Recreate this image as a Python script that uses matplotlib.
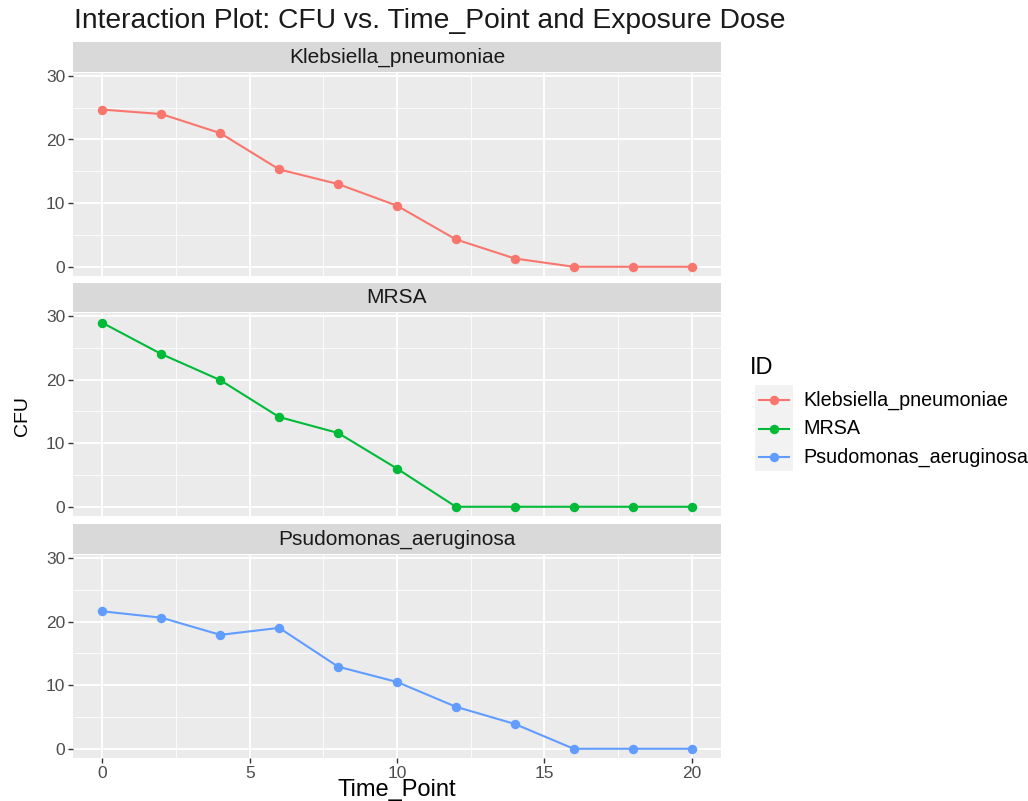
import matplotlib
matplotlib.use("Agg")
import matplotlib.pyplot as plt
from matplotlib.lines import Line2D
from matplotlib.patches import Rectangle

plt.rcParams['font.family'] = ['Liberation Sans', 'DejaVu Sans']

time_points = [0, 2, 4, 6, 8, 10, 12, 14, 16, 18, 20]
organisms = ['Klebsiella_pneumoniae', 'MRSA', 'Psudomonas_aeruginosa']
klebsiella_cfu = [24.7, 24.0, 21.0, 15.3, 13.0, 9.6, 4.3, 1.3, 0, 0, 0]
mrsa_cfu = [28.9, 24.0, 19.9, 14.1, 11.6, 6.0, 0, 0, 0, 0, 0]
pseudomonas_cfu = [21.6, 20.6, 17.9, 19.0, 12.9, 10.5, 6.6, 3.9, 0, 0, 0]
series = [klebsiella_cfu, mrsa_cfu, pseudomonas_cfu]
colors = ['#F8766D', '#00BA38', '#619CFF']

W, H = 1028, 801
fig = plt.figure(figsize=(W / 100, H / 100), dpi=100)
fig.patch.set_facecolor('white')


def fx(px):
    return px / W


def fy(py):
    return 1 - py / H


left, right = 73, 721
# (strip top, panel top, panel bottom) in pixels
panels = [(42, 73, 276), (283, 313, 516), (524, 555, 758)]

for i, (name, cfu, col) in enumerate(zip(organisms, series, colors)):
    st, pt, pb = panels[i]
    ax = fig.add_axes([fx(left), fy(pb), fx(right - left), (pb - pt) / H])
    ax.set_facecolor('#EBEBEB')
    for s in ax.spines.values():
        s.set_visible(False)
    ax.set_xlim(-1.0, 21.0)
    ax.set_ylim(-1.45, 30.45)
    ax.set_yticks([0, 10, 20, 30])
    ax.set_yticks([5, 15, 25], minor=True)
    ax.set_xticks([0, 5, 10, 15, 20])
    ax.set_xticks([2.5, 7.5, 12.5, 17.5], minor=True)
    ax.grid(which='major', color='white', linewidth=1.3)
    ax.grid(which='minor', color='white', linewidth=0.6)
    ax.set_axisbelow(True)
    ax.tick_params(which='minor', length=0)
    ax.tick_params(which='major', length=3.5, width=1, color='#333333',
                   labelcolor='#4D4D4D', labelsize=12.5, pad=2)
    if i < 2:
        ax.tick_params(axis='x', which='major', length=0, labelbottom=False)
    ax.plot(time_points, cfu, color=col, linewidth=1.5, marker='o',
            markersize=6.8, markeredgewidth=0, zorder=3)

    sax = fig.add_axes([fx(left), fy(pt - 1), fx(right - left), (pt - 1 - st) / H])
    sax.set_facecolor('#D9D9D9')
    for s in sax.spines.values():
        s.set_visible(False)
    sax.set_xticks([])
    sax.set_yticks([])
    sax.text(0.5, 0.5, name, transform=sax.transAxes, ha='center', va='center',
             fontsize=15, color='#1A1A1A')

fig.text(fx(74), fy(21), 'Interaction Plot: CFU vs. Time_Point and Exposure Dose',
         ha='left', va='center', fontsize=20.3, color='#1A1A1A')
fig.text(fx(22), fy(416), 'CFU', rotation=90, ha='center', va='center',
         fontsize=14, color='black')
fig.text(fx((left + right) / 2), fy(790), 'Time_Point', ha='center', va='center',
         fontsize=17, color='black')

# legend
fig.text(fx(750), fy(368), 'ID', ha='left', va='center', fontsize=17, color='black')
fig.patches.append(Rectangle((fx(755), fy(471)), fx(38), (471 - 385) / H,
                             transform=fig.transFigure, facecolor='#F2F2F2',
                             edgecolor='none'))
for k, (name, col) in enumerate(zip(organisms, colors)):
    yc = 400 + k * 28.5
    fig.lines.append(Line2D([fx(759), fx(789)], [fy(yc), fy(yc)], transform=fig.transFigure,
                            color=col, linewidth=1.5))
    fig.lines.append(Line2D([fx(774)], [fy(yc)], transform=fig.transFigure, color=col,
                            marker='o', markersize=6.8, markeredgewidth=0))
    fig.text(fx(803), fy(yc), name, ha='left', va='center', fontsize=14.2, color='black')

fig.savefig('out.png', dpi=100)
